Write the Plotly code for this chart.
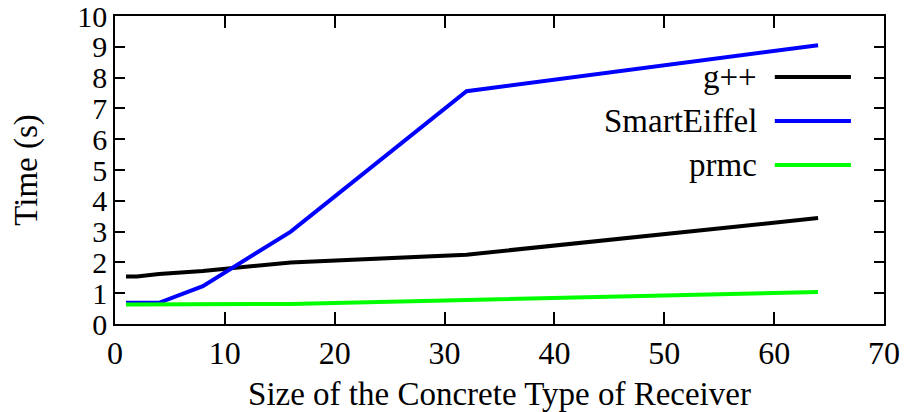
import plotly.graph_objects as go

sizes = [1, 2, 4, 8, 16, 32, 64]
gpp = [1.54, 1.54, 1.62, 1.72, 2.00, 2.25, 3.44]
smarteiffel = [0.69, 0.69, 0.69, 1.23, 3.00, 7.56, 9.05]
prmc = [0.63, 0.63, 0.63, 0.63, 0.65, 0.78, 1.04]

series = [("g++", gpp, "#000000"),
          ("SmartEiffel", smarteiffel, "#0000ff"),
          ("prmc", prmc, "#00ff00")]

FONT = "Liberation Serif"
FS = 33
fig = go.Figure()
for name, ys, col in series:
    fig.add_trace(go.Scatter(x=sizes, y=ys, mode="lines", name=name,
                             line=dict(color=col, width=4), showlegend=False))

# manual gnuplot-style key: text right-aligned, sample line to the right
key_y = [0.802, 0.659, 0.516]
for (name, ys, col), ky in zip(series, key_y):
    fig.add_annotation(x=0.838, y=ky, xref="paper", yref="paper", text=name,
                       showarrow=False, xanchor="right", yanchor="middle",
                       font=dict(family=FONT, size=FS, color="black"))
    fig.add_shape(type="line", xref="paper", yref="paper", x0=0.858, x1=0.957,
                  y0=ky, y1=ky, line=dict(color=col, width=4))

axis_common = dict(showline=True, linecolor="black", linewidth=1.5, mirror="allticks",
                   ticks="inside", tickcolor="black", tickwidth=1.5,
                   showgrid=False, zeroline=False, automargin=False,
                   ticklabeloverflow="allow")
fig.update_xaxes(range=[0, 70], dtick=10, ticklen=12,
                 tickfont=dict(family=FONT, size=32, color="black"),
                 title=dict(text="Size of the Concrete Type of Receiver", standoff=14,
                            font=dict(family=FONT, size=FS, color="black")),
                 **axis_common)
fig.update_yaxes(range=[0, 10], dtick=1, ticklen=10,
                 tickfont=dict(family=FONT, size=30, color="black"),
                 title=dict(text="Time (s)", standoff=30,
                            font=dict(family=FONT, size=FS, color="black")),
                 **axis_common)
fig.update_layout(width=907, height=412, margin=dict(l=115, r=23, t=16, b=88),
                  plot_bgcolor="white", paper_bgcolor="white")
fig.write_html("out.html", config={"displayModeBar": False},
               post_script="document.body.style.margin='0';")
